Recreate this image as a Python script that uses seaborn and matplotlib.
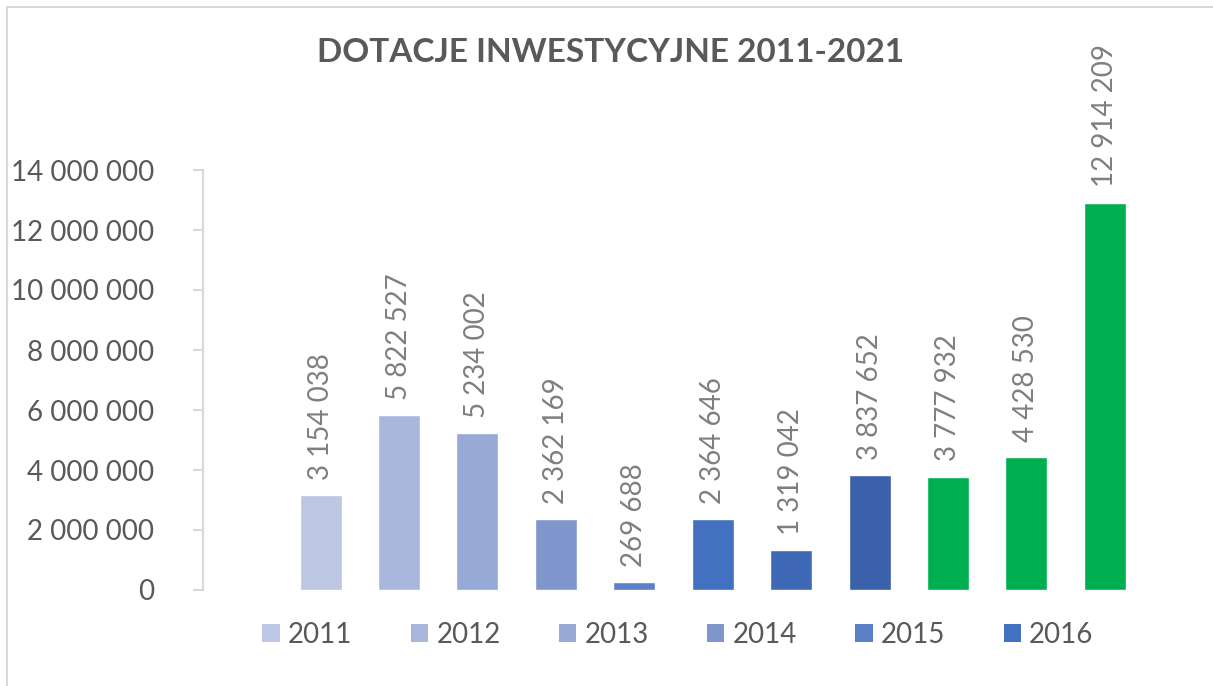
import matplotlib
matplotlib.use("Agg")
import matplotlib.pyplot as plt
from matplotlib.patches import Patch
from matplotlib.lines import Line2D
import seaborn as sns
import pandas as pd

years = ["2011", "2012", "2013", "2014", "2015", "2016",
         "2017", "2018", "2019", "2020", "2021"]
values = [3154038, 5822527, 5234002, 2362169, 269688, 2364646,
          1319042, 3837652, 3777932, 4428530, 12914209]
colors = ["#BDC6E3", "#AAB7DC", "#97A9D5", "#7F96CD", "#5B80C7", "#4370C0",
          "#3F68B6", "#3A61AA", "#00B050", "#00B050", "#00B050"]
legend_years = years[:6]

df = pd.DataFrame({"rok": years, "kwota": values})

sns.set_style("white")
plt.rcParams["font.family"] = ["Lato", "DejaVu Sans"]

fig = plt.figure(figsize=(12.13, 6.86), dpi=100)
ax = fig.add_axes([203/1213, 1-590/686, (1144-203)/1213, (590-170)/686])

sns.barplot(data=df, x="rok", y="kwota", hue="rok", palette=colors,
            dodge=False, legend=False, width=0.535, saturation=1, ax=ax)

fmt = lambda v: f"{v:,.0f}".replace(",", " ")
for cont in ax.containers:
    ax.bar_label(cont, labels=[fmt(b.get_height()) for b in cont], rotation=90,
                 padding=11, fontsize=20, color="#7F7F7F", clip_on=False)

ax.set_xlim(-1.5, 10.5)
ax.set_ylim(0, 14000000)
ax.set_yticks(range(0, 14000001, 2000000))
ax.set_yticklabels([fmt(v) for v in range(0, 14000001, 2000000)])
ax.set_xticks([])
ax.set_xlabel("")
ax.set_ylabel("")
for s in ["top", "right", "bottom"]:
    ax.spines[s].set_visible(False)
ax.spines["left"].set_color("#D9D9D9")
ax.spines["left"].set_linewidth(1.5)
ax.tick_params(axis="y", direction="out", length=7, width=1.5, color="#D9D9D9",
               labelsize=20, labelcolor="#595959", pad=28, left=True)

handles = [Patch(facecolor=c, edgecolor="none") for c in colors[:6]]
fig.legend(handles, legend_years, loc="center", bbox_to_anchor=(678/1213, 1-635/686),
           ncol=6, frameon=False, fontsize=20, labelcolor="#595959",
           handlelength=0.62, handleheight=0.62, handletextpad=0.3, columnspacing=2.1)

fig.text(611/1213, 1-53/686, "DOTACJE INWESTYCYJNE 2011-2021", ha="center", va="center",
         fontsize=24, fontweight="bold", color="#595959")

fig.add_artist(Line2D([7/1213, 1], [1-7/686, 1-7/686], color="#D9D9D9", lw=1.5))
fig.add_artist(Line2D([7/1213, 7/1213], [0, 1-7/686], color="#D9D9D9", lw=1.5))

fig.savefig("out.png", dpi=100)
